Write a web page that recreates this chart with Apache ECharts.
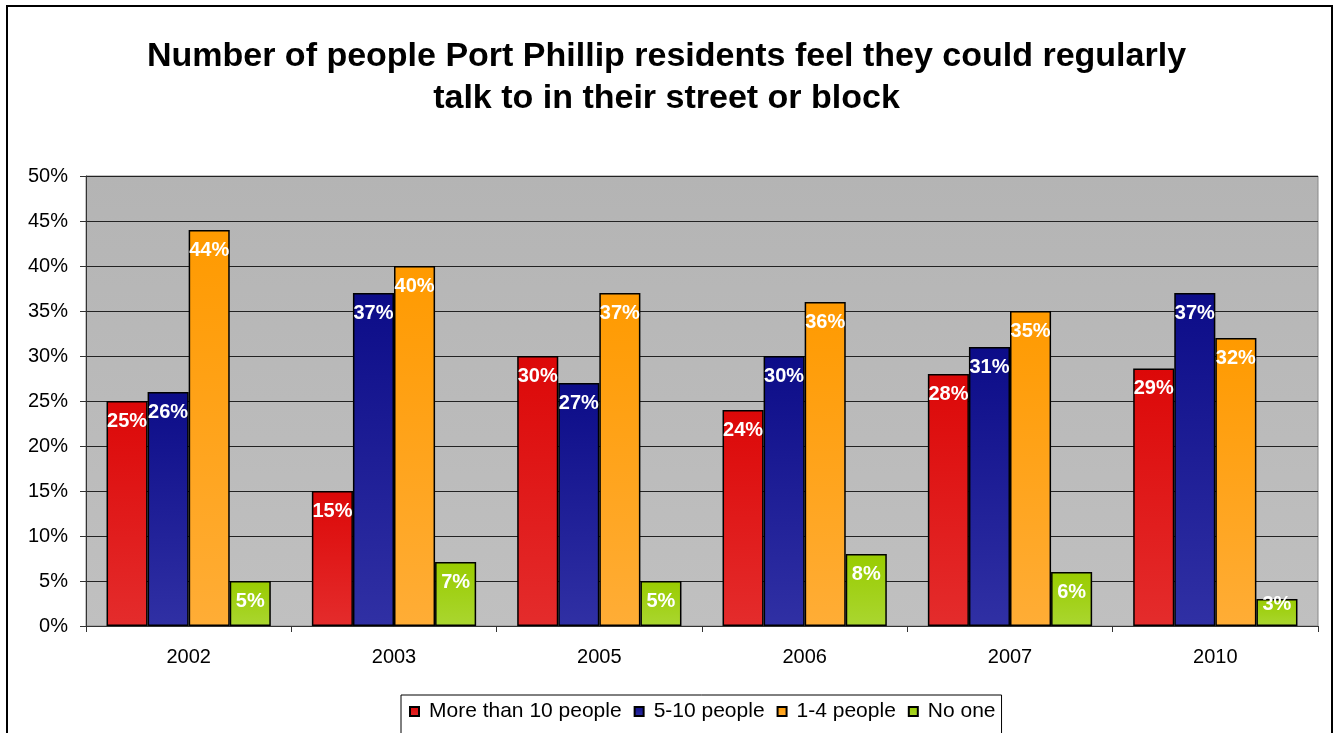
<!DOCTYPE html>
<html>
<head>
<meta charset="utf-8">
<script src="https://cdn.jsdelivr.net/npm/echarts@6/dist/echarts.min.js"></script>
<style>html,body{margin:0;padding:0;background:#fff}#c{width:1333px;height:733px}</style>
</head>
<body>
<div id="c"></div>
<script>
const titleText = "Number of people Port Phillip residents feel they could regularly\ntalk to in their street or block";
const categories = ["2002", "2003", "2005", "2006", "2007", "2010"];
const seriesNames = ["More than 10 people", "5-10 people", "1-4 people", "No one"];
const moreThan10 = [25, 15, 30, 24, 28, 28.6];
const fiveTo10 = [26, 37, 27, 30, 31, 37];
const oneTo4 = [44, 40, 37, 36, 35, 32];
const noOne = [5, 7.1, 5, 8, 6, 3];
const yTicks = [0, 50, 5];

const gradients = [
  ["#dc0808", "#e42c2c"],
  ["#0c0c88", "#3030a4"],
  ["#ff9a00", "#ffad36"],
  ["#99cc00", "#aad630"]
];
const values = [moreThan10, fiveTo10, oneTo4, noOne];

const chart = echarts.init(document.getElementById('c'));
const font = "'Liberation Sans', Arial, sans-serif";
chart.setOption({
  backgroundColor: '#fff',
  animation: false,
  graphic: [{
    type: 'rect', shape: {x: 7, y: 6, width: 1325, height: 740},
    style: {fill: null, stroke: '#000', lineWidth: 2}, z: -1
  }],
  title: {
    text: titleText, left: 'center', top: 31,
    textStyle: {fontFamily: font, fontWeight: 'bold', fontSize: 34, color: '#000', lineHeight: 42}
  },
  legend: {
    data: seriesNames, top: 695, left: 401,
    padding: [6, 6, 20, 8], borderColor: '#000', borderWidth: 1, backgroundColor: '#fff',
    itemWidth: 9, itemHeight: 9, itemGap: 12, icon: 'rect',
    textStyle: {fontFamily: font, fontSize: 21, color: '#000', padding: [0, 0, 0, 5]}
  },
  grid: {left: 86, right: 15, top: 176, bottom: 107, show: true, backgroundColor: {
    type: 'linear', x: 0, y: 0, x2: 0, y2: 1,
    colorStops: [{offset: 0, color: '#b4b4b4'}, {offset: 1, color: '#c0c0c0'}]
  }, borderColor: '#888', borderWidth: 1},
  xAxis: {
    type: 'category', data: categories,
    axisLine: {lineStyle: {color: '#333', width: 1}},
    axisTick: {show: true, length: 6, lineStyle: {color: '#333'}},
    axisLabel: {fontFamily: font, fontSize: 20, color: '#000', margin: 21}
  },
  yAxis: {
    type: 'value', min: yTicks[0], max: yTicks[1], interval: yTicks[2],
    axisLine: {show: true, lineStyle: {color: '#333'}},
    axisTick: {show: true, length: 6, lineStyle: {color: '#333'}},
    axisLabel: {fontFamily: font, fontSize: 20, color: '#000', formatter: '{value}%', margin: 18},
    splitLine: {lineStyle: {color: '#222', width: 1}}
  },
  series: seriesNames.map((n, i) => ({
    name: n, type: 'bar',
    data: values[i].map(v => v < 4 ? {value: v, label: {distance: -5}} : v),
    barGap: '0%', barCategoryGap: '20%',
    itemStyle: {
      color: {type: 'linear', x: 0, y: 0, x2: 0, y2: 1,
        colorStops: [{offset: 0, color: gradients[i][0]}, {offset: 1, color: gradients[i][1]}]},
      borderColor: '#000', borderWidth: 1.5
    },
    label: {
      show: true, position: 'insideTop', distance: 10,
      formatter: p => Math.round(p.value) + '%',
      fontFamily: font, fontWeight: 'bold', fontSize: 20, color: '#fff'
    }
  }))
});
</script>
</body>
</html>
